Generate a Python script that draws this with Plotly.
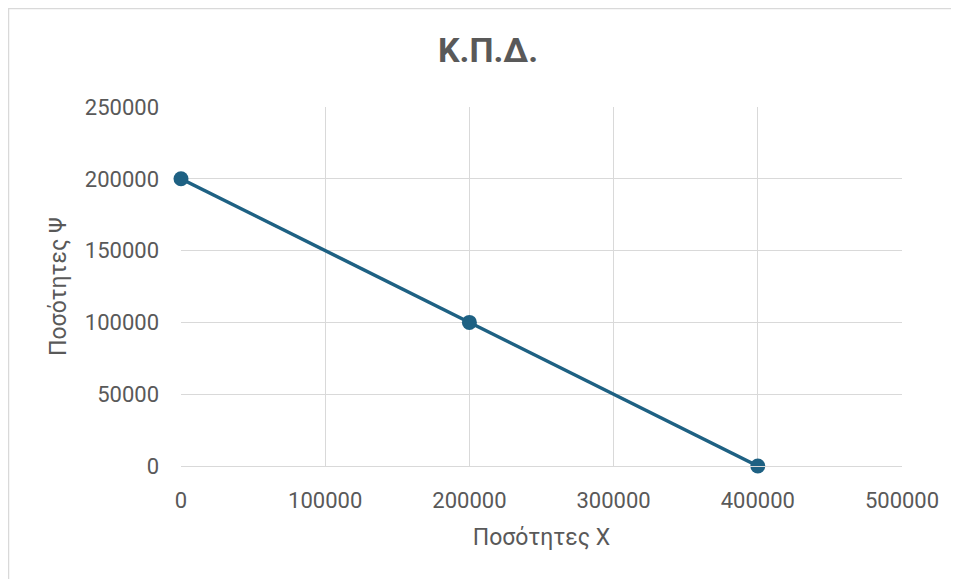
import plotly.graph_objects as go

x_vals = [0, 200000, 400000]
y_vals = [200000, 100000, 0]
x_ticks = [0, 100000, 200000, 300000, 400000, 500000]
y_ticks = [0, 50000, 100000, 150000, 200000, 250000]

OFF = 8  # page body margin
W, H = 959 - OFF, 579 - OFF
L, T = 181 - OFF, 107 - OFF
pw, ph = 721, 359
R, B = W - L - pw, H - T - ph

fig = go.Figure()
fig.add_trace(go.Scatter(
    x=x_vals, y=y_vals, mode="lines+markers",
    line=dict(color="#1E6183", width=3.5),
    marker=dict(color="#1E6183", size=15),
    cliponaxis=False, showlegend=False,
))

font = "Roboto, Open Sans, sans-serif"
grey = "#595959"
fig.update_layout(
    width=W, height=H,
    margin=dict(l=L, r=R, t=T, b=B),
    paper_bgcolor="white", plot_bgcolor="white",
    font=dict(family=font, color=grey, size=22),
    title=dict(text="<b>Κ.Π.Δ.</b>", x=(488 - OFF) / W, xanchor="center",
               y=1 - (50 - OFF) / H, yanchor="middle",
               font=dict(size=34, color=grey, family=font)),
    xaxis=dict(range=[0, 500000], tickvals=x_ticks, ticktext=[str(v) for v in x_ticks],
               showgrid=True, gridcolor="#d9d9d9", gridwidth=1,
               zeroline=False, showline=True, linecolor="#d9d9d9", linewidth=1,
               mirror=False, ticks="", ticklen=0, ticklabelstandoff=15,
               title=dict(text="Ποσότητες X", font=dict(size=23, color=grey), standoff=16),
               tickfont=dict(size=22, color=grey)),
    yaxis=dict(range=[0, 250000], tickvals=y_ticks, ticktext=[str(v) for v in y_ticks],
               showgrid=True, gridcolor="#d9d9d9", gridwidth=1,
               zeroline=False, showline=False, ticks="", ticklen=0, ticklabelstandoff=21,
               title=dict(text="Ποσότητες Ψ", font=dict(size=23, color=grey), standoff=11),
               tickfont=dict(size=22, color=grey)),
)

fig.add_shape(type="rect", xref="paper", yref="paper",
              x0=(0.5 - L) / pw, x1=(W + 20 - L) / pw,
              y0=-(B + 20) / ph, y1=1 + (T - 0.5) / ph,
              line=dict(color="#d9d9d9", width=1.5), fillcolor="rgba(0,0,0,0)",
              layer="below")

fig.write_html("out.html")
